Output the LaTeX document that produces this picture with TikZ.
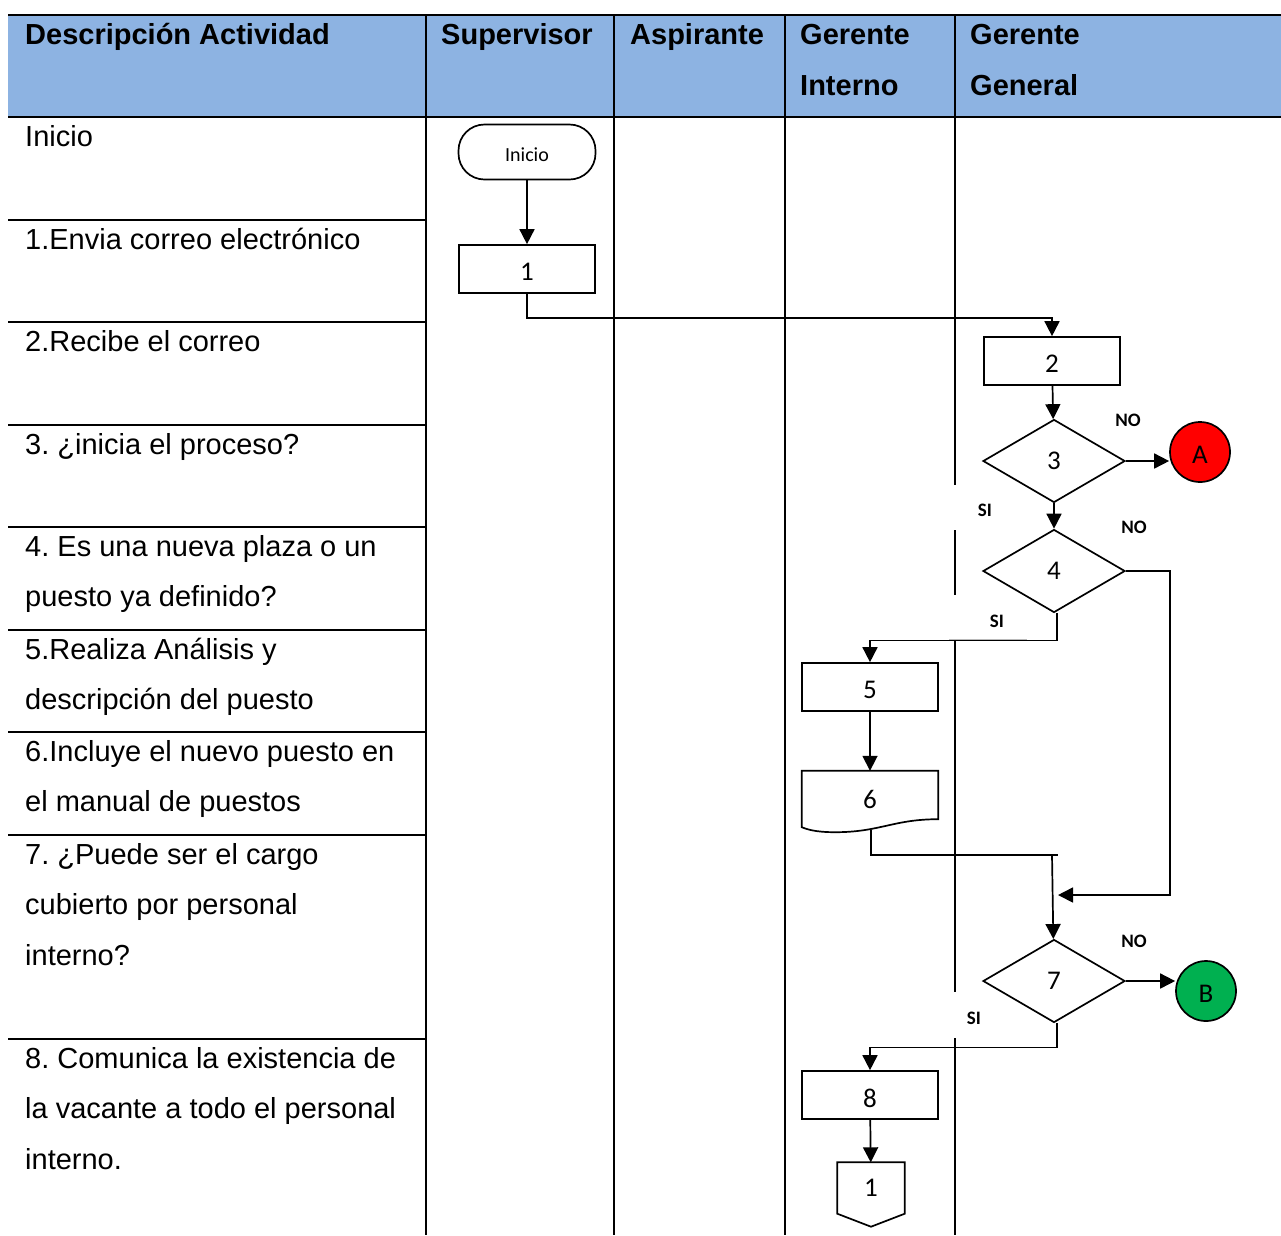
\documentclass[tikz,border=0pt]{standalone}
\usepackage{fontspec}
\setmainfont{Liberation Sans}
\newfontfamily\flowfont{Carlito}
\usetikzlibrary{shapes.geometric,arrows.meta,calc}
\definecolor{headblue}{RGB}{141,179,226}
\definecolor{signred}{RGB}{255,0,0}
\definecolor{signgreen}{RGB}{0,176,80}
% set symbol text a little below the geometric centre of its shape
\newcommand\lowtxt[1]{\raisebox{-3pt}[\height][\depth]{#1}}

\begin{document}
\frenchspacing
\begin{tikzpicture}[x=1pt,y=-1pt,
  rule/.style={line width=1.8pt},
  headrule/.style={line width=2.6pt},
  headtxt/.style={anchor=base west,inner sep=0,font=\fontsize{29}{29}\selectfont\bfseries},
  celltxt/.style={anchor=base west,inner sep=0,font=\fontsize{29}{29}\selectfont},
  flow/.style={line width=1.7pt},
  arr/.style={flow,-{Triangle[length=15pt,width=15pt]}},
  proc/.style={draw,flow,rectangle,minimum width=136pt,minimum height=48pt,inner sep=0,font=\flowfont\fontsize{27}{27}\selectfont},
  term/.style={draw,flow,rectangle,rounded corners=26pt,minimum width=137pt,minimum height=55pt,inner sep=0,font=\flowfont\fontsize{20}{20}\selectfont},
  decide/.style={draw,flow,diamond,minimum width=142pt,minimum height=83pt,inner sep=0,font=\flowfont\fontsize{27}{27}\selectfont},
  sign/.style={draw,flow,circle,minimum size=60pt,inner sep=0,font=\flowfont\fontsize{27}{27}\selectfont},
  plain/.style={inner sep=0,font=\flowfont\fontsize{27}{27}\selectfont},
  branch/.style={inner sep=0,font=\flowfont\fontsize{19}{19}\selectfont\bfseries}
]
\useasboundingbox (0,0) rectangle (1281,1235);

% header band
\fill[headblue] (8,15) rectangle (1281,117);
\draw[headrule] (8,15) -- (1281,15);
\draw[headrule] (8,117) -- (1281,117);

% column rules
\foreach \cx in {426,614,785}
  \draw[rule] (\cx,15) -- (\cx,1235);
\draw[rule] (955,15) -- (955,485);
\draw[rule] (955,530) -- (955,595);
\draw[rule] (955,640) -- (955,992);
\draw[rule] (955,1038) -- (955,1235);

% row rules of the description column
\foreach \ry in {220,322,425,527,630,732,835,1039}
  \draw[rule] (8,\ry) -- (426,\ry);

% header texts
\node[headtxt] (hDesc) at (25,44) {Descripción Actividad};
\node[headtxt] (hSup) at (441,44) {Supervisor};
\node[headtxt] (hAsp) at (630,44) {Aspirante};
\node[headtxt] (hGi1) at (800,44) {Gerente};
\node[headtxt] (hGi2) at (800,95) {Interno};
\node[headtxt] (hGg1) at (970,44) {Gerente};
\node[headtxt] (hGg2) at (970,95) {General};

% activity descriptions
\node[celltxt] (t0) at (25,146) {Inicio};
\node[celltxt] (t1) at (25,249) {1.Envia correo electrónico};
\node[celltxt] (t2) at (25,351) {2.Recibe el correo};
\node[celltxt] (t3) at (25,454) {3. ¿inicia el proceso?};
\node[celltxt] (t4a) at (25,556) {4. Es una nueva plaza o un};
\node[celltxt] (t4b) at (25,606.5) {puesto ya definido?};
\node[celltxt] (t5a) at (25,659) {5.Realiza Análisis y};
\node[celltxt] (t5b) at (25,709.5) {descripción del puesto};
\node[celltxt] (t6a) at (25,761) {6.Incluye el nuevo puesto en};
\node[celltxt] (t6b) at (25,811.5) {el manual de puestos};
\node[celltxt] (t7a) at (25,864) {7. ¿Puede ser el cargo};
\node[celltxt] (t7b) at (25,914.5) {cubierto por personal};
\node[celltxt] (t7c) at (25,965) {interno?};
\node[celltxt] (t8a) at (25,1068) {8. Comunica la existencia de};
\node[celltxt] (t8b) at (25,1118.5) {la vacante a todo el personal};
\node[celltxt] (t8c) at (25,1169) {interno.};

% flowchart nodes
\node[term] (ini) at (527,152) {\lowtxt{Inicio}};
\node[proc] (b1) at (527,269) {\lowtxt{1}};
\node[proc] (b2) at (1052,361) {\lowtxt{2}};
\node[decide] (d3) at (1054,461) {3};
\node[sign,fill=signred] (cA) at (1200,452) {\lowtxt{A}};
\node[decide] (d4) at (1054,571) {4};
\node[proc] (b5) at (870,687) {\lowtxt{5}};
\node[plain,minimum width=136pt,minimum height=56pt] (n6) at (870,799) {6};
\node[decide] (d7) at (1054,981) {7};
\node[sign,fill=signgreen] (cB) at (1206,991) {\lowtxt{B}};
\node[proc] (b8) at (870,1095) {\lowtxt{8}};
\node[plain,minimum width=67pt,minimum height=51pt] (off1) at (871,1188) {1};

% document symbol for step 6
\draw[flow] (n6.north west) -- (n6.north east) -- ($(n6.south east)+(0,-8)$)
  .. controls ($(n6.south east)+(-45,-8)$) and ($(n6.south)+(10,5)$) .. ($(n6.south)+(-35,5)$)
  .. controls ($(n6.south)+(-55,5)$) and ($(n6.south west)+(5,2)$) .. (n6.south west) -- cycle;

% off-page connector
\draw[flow] (off1.north west) -- (off1.north east) -- (off1.south east)
  -- ($(off1.south)+(0,13)$) -- (off1.south west) -- cycle;

% branch labels
\node[branch] (no3) at (1128,420) {NO};
\node[branch] (si3) at (985,510) {SI};
\node[branch] (no4) at (1134,527) {NO};
\node[branch] (si4) at (997,621) {SI};
\node[branch] (no7) at (1134,941) {NO};
\node[branch] (si7) at (974,1018) {SI};

% connectors
\coordinate (loopR) at (1170,895);
\coordinate (loopEnd) at (1058,895);
\coordinate (merge) at (1052,855);
\coordinate (mergeEnd) at (1058,855);

\draw[arr] (ini) -- (b1);
\draw[arr] (b1.south) -- ++(0,24) -| (b2.north);
\draw[arr] (b2) -- (d3);
\draw[arr] (d3.east) -- (d3.east -| cA.west);
\draw[arr] (d3) -- (d4);
\draw[arr] (d4.east) -- (d4.east -| loopR) -- (loopR) -- (loopEnd);
\draw[arr] ([xshift=3pt]d4.south) -- ++(0,27) -| (b5.north);
\draw[white,line width=2pt] (949,639) -- (1027,639);
\draw[gray!55,line width=1pt] (949,639) -- (1027,639);
\draw[arr] (b5) -- (n6);
\draw[flow] ($(n6.south)+(1,3)$) |- (mergeEnd);
\draw[arr] (merge) -- (d7);
\draw[arr] (d7.east) -- (d7.east -| cB.west);
\draw[arr] ([xshift=3pt]d7.south) -- ++(0,24) -| (b8.north);
\draw[arr] (b8) -- (off1);
\end{tikzpicture}
\end{document}
